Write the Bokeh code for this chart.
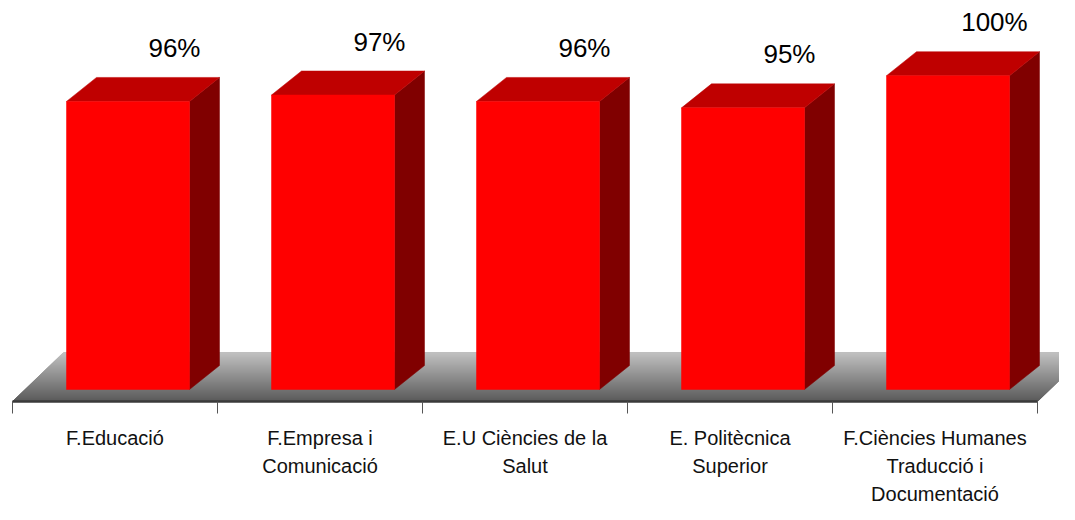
from bokeh.plotting import figure
from bokeh.models import ColumnDataSource, Range1d
from bokeh.embed import file_html
from bokeh.resources import INLINE
from bokeh.core.properties import value

# ---------------- data ----------------
categories = [
    "F.Educació",
    "F.Empresa i\nComunicació",
    "E.U Ciències de la\nSalut",
    "E. Politècnica\nSuperior",
    "F.Ciències Humanes\nTraducció i\nDocumentació",
]
values = [96, 97, 96, 95, 100]
value_labels = ["96%", "97%", "96%", "95%", "100%"]

# ---------------- style / geometry ----------------
W, H = 1059, 504
PX = 205.0      # pixels per category
PY = 6.43       # pixels per percentage point
BASE = 51.2     # value axis minimum (bar base)
FONT = "Liberation Sans"

def dx(px):
    return px / PX

def dy(px):
    return px / PY

x_start = -12 / PX
y_start = BASE - (H - 389) / PY
n = len(categories)

p = figure(width=W, height=H, output_backend="svg", toolbar_location=None,
           x_range=Range1d(x_start, x_start + W / PX),
           y_range=Range1d(y_start, y_start + H / PY),
           min_border=0, outline_line_color=None)
p.axis.visible = False
p.grid.visible = False
p.background_fill_color = "white"
p.border_fill_color = "white"

# ---------------- floor (gradient) ----------------
FF = BASE - dy(12)        # floor front
FB = BASE + dy(37)        # floor back
FDX = dx(51)              # floor depth shift
N = 49
front_rgb = (0x58, 0x58, 0x58)
back_rgb = (0xc0, 0xc0, 0xc0)
xs, ys, cols = [], [], []
for k in range(N):
    t0, t1 = k / N, (k + 1) / N
    y0 = FF + t0 * (FB - FF)
    y1 = FF + t1 * (FB - FF)
    xs.append([t0 * FDX, n + t0 * FDX, n + t1 * FDX, t1 * FDX])
    ys.append([y0, y0, y1, y1])
    tm = (k + 0.5) / N
    c = tuple(int(round(front_rgb[j] + tm * (back_rgb[j] - front_rgb[j]))) for j in range(3))
    cols.append("#%02x%02x%02x" % c)
p.patches(xs=xs, ys=ys, fill_color=cols, line_color=cols, line_width=1)

# floor front edge
p.line(x=[0, n], y=[FF, FF], line_color="#3a3a3a", line_width=2.5)

# ticks at category boundaries
p.segment(x0=list(range(n + 1)), y0=[FF] * (n + 1),
          x1=list(range(n + 1)), y1=[FF - dy(12)] * (n + 1),
          line_color="#555555", line_width=1)

# ---------------- 3D bars ----------------
BOFF = dx(13)
BW = 0.6
BDX = dx(30)
BDY = dy(24)
lefts = [i + 0.2 + BOFF for i in range(n)]
rights = [l + BW for l in lefts]

side_xs = [[r, r + BDX, r + BDX, r] for r in rights]
side_ys = [[BASE, BASE + BDY, v + BDY, v] for v in values]
p.patches(xs=side_xs, ys=side_ys, fill_color="#800000", line_color="#800000", line_width=0.5)

top_xs = [[l, r, r + BDX, l + BDX] for l, r in zip(lefts, rights)]
top_ys = [[v, v, v + BDY, v + BDY] for v in values]
p.patches(xs=top_xs, ys=top_ys, fill_color="#bf0000", line_color="#bf0000", line_width=0.5)

p.quad(left=lefts, right=rights, bottom=[BASE] * n, top=values,
       fill_color="#ff0000", line_color="#ff0000", line_width=0.5)

# value labels
vsrc = ColumnDataSource(dict(x=[i + 0.79 for i in range(n)],
                             y=[v + BDY for v in values],
                             text=value_labels))
p.text(x="x", y="y", text="text", source=vsrc, y_offset=-29.5,
       text_font=value(FONT), text_font_size="26px", text_color="#000000",
       text_align="center", text_baseline="middle")

# category labels
cx, cy, ct, coff = [], [], [], []
for i, c in enumerate(categories):
    for k, line in enumerate(c.split("\n")):
        cx.append(i + 0.5)
        cy.append(FF)
        ct.append(line)
        coff.append(36 + 28 * k)
csrc = ColumnDataSource(dict(x=cx, y=cy, text=ct, off=coff))
p.text(x="x", y="y", text="text", source=csrc, y_offset="off",
       text_font=value(FONT), text_font_size="20px", text_color="#111111",
       text_align="center", text_baseline="middle")

open("out.html", "w").write(file_html(p, INLINE))
